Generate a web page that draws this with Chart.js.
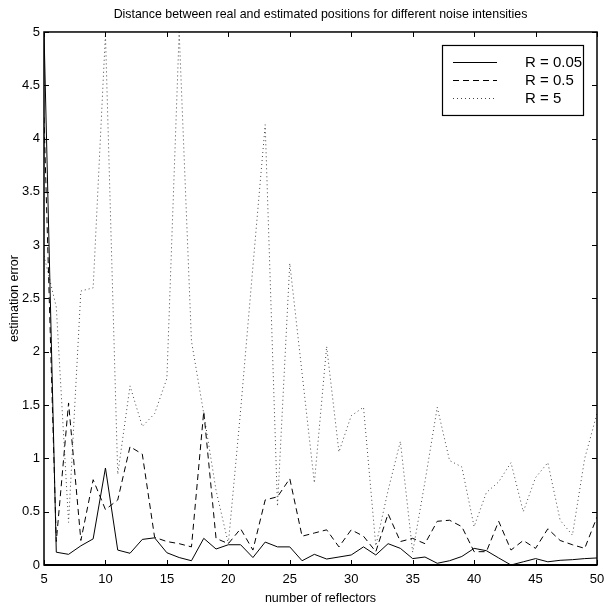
<!DOCTYPE html>
<html>
<head>
<meta charset="utf-8">
<script src="https://cdn.jsdelivr.net/npm/chart.js@4.4.0/dist/chart.umd.min.js"></script>
<style>
  html, body { margin: 0; padding: 0; background: #fff; }
  #wrap { width: 604px; height: 606px; }
</style>
</head>
<body>
<div id="wrap"><canvas id="errChart" width="604" height="606"></canvas></div>
<script>
// number of reflectors (x)
const reflectors = [5, 6, 7, 8, 9, 10, 11, 12, 13, 14, 15, 16, 17, 18, 19, 20, 21, 22, 23, 24, 25, 26, 27,
  28, 29, 30, 31, 32, 33, 34, 35, 36, 37, 38, 39, 40, 41, 42, 43, 44, 45, 46, 47, 48, 49, 50];

// estimation error, R = 0.05
const errR005 = [5.0, 0.12, 0.10, 0.18, 0.245, 0.91, 0.14, 0.11, 0.24, 0.255, 0.115, 0.07, 0.04, 0.25, 0.15,
  0.19, 0.19, 0.07, 0.215, 0.17, 0.17, 0.04, 0.10, 0.056, 0.075, 0.094, 0.17, 0.094, 0.20, 0.156, 0.06,
  0.075, 0.016, 0.04, 0.08, 0.156, 0.134, 0.066, 0.0, 0.03, 0.06, 0.03, 0.044, 0.05, 0.06, 0.066];

// estimation error, R = 0.5
const errR05 = [4.2, 0.22, 1.52, 0.23, 0.8, 0.52, 0.61, 1.11, 1.04, 0.26, 0.22, 0.2, 0.17, 1.44, 0.25,
  0.2, 0.34, 0.14, 0.61, 0.64, 0.81, 0.27, 0.30, 0.33, 0.17, 0.33, 0.27, 0.125, 0.48, 0.22, 0.25,
  0.2, 0.41, 0.42, 0.36, 0.125, 0.125, 0.41, 0.14, 0.23, 0.156, 0.34, 0.23, 0.19, 0.156, 0.45];

// estimation error, R = 5
const errR5 = [2.9, 2.42, 0.4, 2.57, 2.6, 4.98, 0.85, 1.68, 1.3, 1.42, 1.75, 5.0, 2.1, 1.42, 0.7,
  0.2, 1.45, 2.8, 4.13, 0.55, 2.83, 1.8, 0.77, 2.05, 1.06, 1.4, 1.48, 0.18, 0.7, 1.16, 0.12,
  0.78, 1.48, 0.98, 0.92, 0.36, 0.68, 0.78, 0.96, 0.5, 0.82, 0.96, 0.42, 0.28, 1.0, 1.42];

const xTicks = [5, 10, 15, 20, 25, 30, 35, 40, 45, 50];
const yTicks = [0, 0.5, 1, 1.5, 2, 2.5, 3, 3.5, 4, 4.5, 5];

const FONT = "'Liberation Sans', Arial, Helvetica, sans-serif";

const toPoints = vals => vals.map((v, i) => ({ x: reflectors[i], y: v }));

// box round the axes, inward ticks on all four sides, legend in the corner
const matlabFrame = {
  id: 'matlabFrame',
  afterDatasetsDraw(chart) {
    const { ctx, chartArea: a, scales: { x, y } } = chart;
    ctx.save();
    ctx.strokeStyle = '#000';
    ctx.lineWidth = 1;
    ctx.setLineDash([]);
    ctx.beginPath();
    x.ticks.forEach(t => {
      const px = Math.round(x.getPixelForValue(t.value)) + 0.5;
      ctx.moveTo(px, a.bottom); ctx.lineTo(px, a.bottom - 5);
      ctx.moveTo(px, a.top); ctx.lineTo(px, a.top + 5);
    });
    y.ticks.forEach(t => {
      const py = Math.round(y.getPixelForValue(t.value)) + 0.5;
      ctx.moveTo(a.left, py); ctx.lineTo(a.left + 5, py);
      ctx.moveTo(a.right, py); ctx.lineTo(a.right - 5, py);
    });
    ctx.stroke();

    ctx.lineWidth = 1.5;
    ctx.strokeRect(a.left, a.top, a.right - a.left, a.bottom - a.top);
    ctx.lineWidth = 2;
    ctx.beginPath();
    ctx.moveTo(a.left, a.bottom); ctx.lineTo(a.right, a.bottom);
    ctx.stroke();

    // legend
    const bw = 141, bh = 70;
    const bx = a.right - 14 - bw, by = a.top + 13;
    ctx.fillStyle = '#fff';
    ctx.fillRect(bx, by, bw, bh);
    ctx.lineWidth = 1.2;
    ctx.strokeRect(bx + 0.5, by + 0.5, bw, bh);
    ctx.font = '15px ' + FONT;
    ctx.textBaseline = 'middle';
    ctx.textAlign = 'left';
    chart.data.datasets.forEach((ds, i) => {
      const ly = Math.round(by + 17.5 + i * 18) + 0.5;
      ctx.strokeStyle = ds.borderColor;
      ctx.lineWidth = ds.borderWidth;
      ctx.setLineDash(ds.borderDash || []);
      ctx.beginPath();
      ctx.moveTo(bx + 11, ly);
      ctx.lineTo(bx + 55, ly);
      ctx.stroke();
      ctx.setLineDash([]);
      ctx.fillStyle = '#000';
      ctx.fillText(ds.label, bx + 83, ly);
    });
    ctx.restore();
  }
};

new Chart(document.getElementById('errChart'), {
  type: 'line',
  data: {
    datasets: [{
      label: 'R = 0.05',
      data: toPoints(errR005),
      borderColor: '#000',
      borderWidth: 1,
      pointRadius: 0,
      tension: 0
    }, {
      label: 'R = 0.5',
      data: toPoints(errR05),
      borderColor: '#000',
      borderWidth: 1,
      borderDash: [6, 4],
      pointRadius: 0,
      tension: 0
    }, {
      label: 'R = 5',
      data: toPoints(errR5),
      borderColor: '#444',
      borderWidth: 1,
      borderDash: [1, 3],
      pointRadius: 0,
      tension: 0
    }]
  },
  options: {
    responsive: false,
    animation: false,
    layout: { padding: { left: 0, right: 7, top: 0, bottom: 0 } },
    plugins: {
      legend: { display: false },
      tooltip: { enabled: false },
      title: {
        display: true,
        fullSize: false,
        text: 'Distance between real and estimated positions for different noise intensities',
        color: '#000',
        font: { family: FONT, size: 12.4, weight: 'normal' },
        padding: { top: 7.5, bottom: 9.6 }
      }
    },
    scales: {
      x: {
        type: 'linear',
        min: 5,
        max: 50,
        afterBuildTicks: s => { s.ticks = xTicks.map(v => ({ value: v })); },
        afterFit: s => { s.height = 41; s.paddingLeft = 0; s.paddingRight = 0; },
        grid: { display: false, drawTicks: false },
        border: { display: false },
        ticks: { color: '#000', padding: 7, maxRotation: 0, font: { family: FONT, size: 13 } },
        title: {
          display: true,
          text: 'number of reflectors',
          color: '#000',
          font: { family: FONT, size: 12.5 },
          padding: { top: 0, bottom: 0 }
        }
      },
      y: {
        min: 0,
        max: 5,
        afterBuildTicks: s => { s.ticks = yTicks.map(v => ({ value: v })); },
        afterFit: s => { s.width = 44; s.paddingTop = 0; s.paddingBottom = 0; },
        grid: { display: false, drawTicks: false },
        border: { display: false },
        ticks: { color: '#000', padding: 4, font: { family: FONT, size: 13 }, callback: v => String(v) },
        title: {
          display: true,
          text: 'estimation error',
          color: '#000',
          font: { family: FONT, size: 12.5 },
          padding: { top: 7, bottom: 0 }
        }
      }
    }
  },
  plugins: [matlabFrame]
});
</script>
</body>
</html>
